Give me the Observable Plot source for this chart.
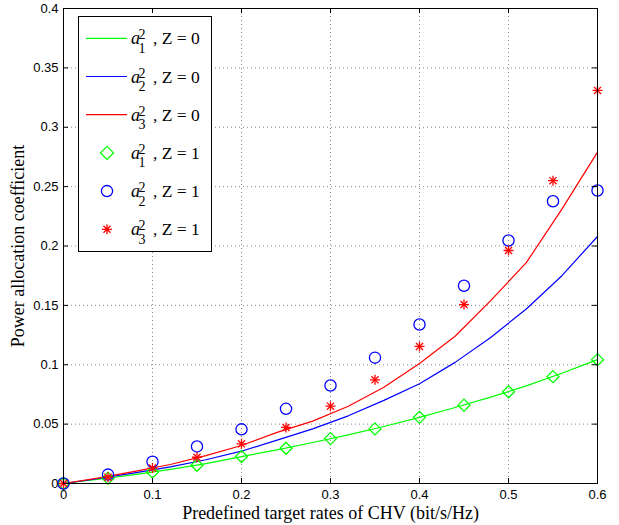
<!DOCTYPE html>
<html><head><meta charset="utf-8">
<script src="https://cdn.jsdelivr.net/npm/d3@7"></script>
<script src="https://cdn.jsdelivr.net/npm/@observablehq/plot@0.6"></script>
<style>
html,body{margin:0;padding:0;background:#fff;}
#wrap{position:relative;width:619px;height:525px;}
#legend{position:absolute;left:78px;top:16px;}
</style></head><body><div id="wrap"></div>
<script>
// Marker series (Z = 1)
const rates = [0, 0.05, 0.1, 0.15, 0.2, 0.25, 0.3, 0.35, 0.4, 0.45, 0.5, 0.55, 0.6];
const a1Z1 = [0, 0.0045, 0.0096, 0.0154, 0.0227, 0.0297, 0.0378, 0.0460, 0.0557, 0.0660, 0.0772, 0.0900, 0.1043];
const a2Z1 = [0, 0.0075, 0.0183, 0.0312, 0.0456, 0.0629, 0.0825, 0.1060, 0.1339, 0.1665, 0.2046, 0.2377, 0.2467];
const a3Z1 = [0, 0.0053, 0.0130, 0.0221, 0.0334, 0.0472, 0.0651, 0.0873, 0.1154, 0.1507, 0.1962, 0.2550, 0.3310];
// Line series (Z = 0)
const lineRates = [0, 0.04, 0.08, 0.12, 0.16, 0.2, 0.24, 0.28, 0.32, 0.36, 0.4, 0.44, 0.48, 0.52, 0.56, 0.6];
const a1Z0 = [0, 0.0036, 0.0075, 0.0119, 0.0168, 0.0227, 0.0283, 0.0345, 0.0410, 0.0480, 0.0557, 0.0640, 0.0727, 0.0822, 0.0928, 0.1043];
const a2Z0 = [0, 0.0042, 0.0090, 0.0140, 0.0200, 0.0272, 0.0365, 0.0460, 0.0570, 0.0700, 0.0840, 0.1020, 0.1230, 0.1470, 0.1750, 0.2080];
const a3Z0 = [0, 0.0048, 0.0102, 0.0160, 0.0235, 0.0320, 0.0430, 0.0525, 0.0650, 0.0810, 0.1010, 0.1240, 0.1540, 0.1860, 0.2310, 0.2790];
// Ticks and labels
const xTicks = [0, 0.1, 0.2, 0.3, 0.4, 0.5, 0.6];
const yTicks = [0, 0.05, 0.1, 0.15, 0.2, 0.25, 0.3, 0.35, 0.4];
const xLabel = "Predefined target rates of CHV (bit/s/Hz)";
const yLabel = "Power allocation coefficient";
const legendSub = ["1", "2", "3", "1", "2", "3"];
const legendZ = ["0", "0", "0", "1", "1", "1"];

const GREEN = "#00ff00", BLUE = "#0000ff", RED = "#ff0000";
const W = 619, H = 525, ML = 63, MR = 22, MT = 8, MB = 42;
const PW = W - ML - MR, PH = H - MT - MB;

const toPts = (xs, ys) => xs.map((x, i) => ({x, y: ys[i]}));
const L1 = toPts(lineRates, a1Z0), L2 = toPts(lineRates, a2Z0), L3 = toPts(lineRates, a3Z0);
const M1 = toPts(rates, a1Z1), M2 = toPts(rates, a2Z1), M3 = toPts(rates, a3Z1);
const fmt = d => String(d);
const grid = {stroke: "#888", strokeOpacity: 1, strokeWidth: 1, strokeDasharray: "1,3"};
const serif = "'Liberation Serif', 'Times New Roman', serif";

const chart = Plot.plot({
  width: W, height: H,
  marginLeft: ML, marginRight: MR, marginTop: MT, marginBottom: MB,
  x: {domain: [0, 0.6]},
  y: {domain: [0, 0.4]},
  style: {fontFamily: "'Liberation Sans', Arial, sans-serif", fontSize: "13px", color: "black", background: "white"},
  marks: [
    Plot.gridX({ticks: xTicks.slice(1, -1), ...grid}),
    Plot.gridY({ticks: yTicks.slice(1, -1), ...grid}),
    Plot.line(L1, {x: "x", y: "y", stroke: GREEN, strokeWidth: 1.2}),
    Plot.line(L2, {x: "x", y: "y", stroke: BLUE, strokeWidth: 1.2}),
    Plot.line(L3, {x: "x", y: "y", stroke: RED, strokeWidth: 1.2}),
    Plot.dot(M1, {x: "x", y: "y", symbol: "diamond2", r: 5.4, stroke: GREEN, fill: "none", strokeWidth: 1.3}),
    Plot.dot(M2, {x: "x", y: "y", symbol: "circle", r: 5.6, stroke: BLUE, fill: "none", strokeWidth: 1.3}),
    Plot.dot(M3, {x: "x", y: "y", symbol: "plus", r: 3.3, stroke: RED, strokeWidth: 1.3}),
    Plot.dot(M3, {x: "x", y: "y", symbol: "times", r: 3.3, stroke: RED, strokeWidth: 1.3}),
    Plot.frame({stroke: "black", strokeWidth: 1}),
    Plot.tickX(xTicks, {x: d => d, insetTop: PH - 5, stroke: "black"}),
    Plot.tickX(xTicks, {x: d => d, insetBottom: PH - 5, stroke: "black"}),
    Plot.tickY(yTicks, {y: d => d, insetRight: PW - 5, stroke: "black"}),
    Plot.tickY(yTicks, {y: d => d, insetLeft: PW - 5, stroke: "black"}),
    Plot.axisX({ticks: xTicks, tickSize: 0, tickPadding: 6, tickFormat: fmt, label: null}),
    Plot.axisY({ticks: yTicks, tickSize: 0, tickPadding: 5, tickFormat: fmt, label: null}),
    Plot.text([xLabel], {text: d => d, frameAnchor: "bottom", dy: 35, lineAnchor: "bottom", textAnchor: "middle",
      fontFamily: serif, fontSize: 18}),
    Plot.text([yLabel], {text: d => d, frameAnchor: "left", dx: -45.5, rotate: -90, lineAnchor: "middle", textAnchor: "middle",
      fontFamily: serif, fontSize: 18})
  ]
});
document.getElementById("wrap").appendChild(chart);

// Legend
const lg = d3.select("#wrap").append("svg").attr("id", "legend")
  .attr("width", 135).attr("height", 237);
lg.append("rect").attr("x", 0.5).attr("y", 0.5).attr("width", 133).attr("height", 235)
  .attr("fill", "white").attr("stroke", "black").attr("stroke-width", 1);
const colors = [GREEN, BLUE, RED, GREEN, BLUE, RED];
legendSub.forEach((sub, i) => {
  const cy = 22.3 + i * 38.2;
  const g = lg.append("g").attr("transform", `translate(0,${cy})`);
  const c = colors[i];
  if (i < 3) {
    g.append("line").attr("x1", 8).attr("x2", 49).attr("y1", 0).attr("y2", 0)
      .attr("stroke", c).attr("stroke-width", 1.2);
  } else if (i === 3) {
    g.append("path").attr("d", "M29,-6.5L35.5,0L29,6.5L22.5,0Z").attr("fill", "none").attr("stroke", c).attr("stroke-width", 1.3);
  } else if (i === 4) {
    g.append("circle").attr("cx", 29).attr("cy", 0).attr("r", 5.6).attr("fill", "none").attr("stroke", c).attr("stroke-width", 1.3);
  } else {
    g.append("path").attr("d", "M24,0H34M29,-5V5M25.5,-3.5L32.5,3.5M25.5,3.5L32.5,-3.5")
      .attr("fill", "none").attr("stroke", c).attr("stroke-width", 1.3);
  }
  g.append("text").attr("x", 53).attr("y", 6).attr("font-family", serif).attr("font-size", 18)
    .attr("font-style", "italic").text("a");
  g.append("text").attr("x", 60.5).attr("y", 1).attr("font-family", serif).attr("font-size", 14).text("2");
  g.append("text").attr("x", 60.5).attr("y", 14.5).attr("font-family", serif).attr("font-size", 14).text(sub);
  g.append("text").attr("x", 75).attr("y", 6).attr("font-family", serif).attr("font-size", 17.5)
    .style("white-space", "pre").text(", Z = " + legendZ[i]);
});
</script>
</body></html>
